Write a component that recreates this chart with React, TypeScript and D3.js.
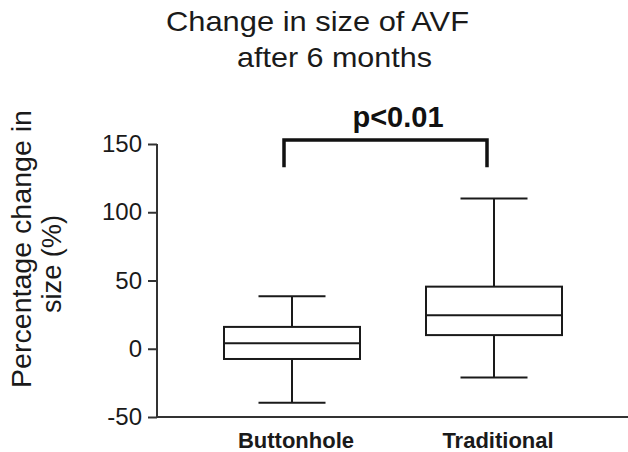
import React, { useEffect, useRef } from 'react';
import * as d3 from 'd3';

// Box-plot data (percentage change in AVF size)
const categories = ['Buttonhole', 'Traditional'];
const whiskerLow = [-39.5, -21];
const q1Values = [-7.5, 10];
const medianValues = [4, 24.5];
const q3Values = [16, 45.5];
const whiskerHigh = [38.5, 110];

const yTicks = [-50, 0, 50, 100, 150];
const titleLines = ['Change in size of AVF', 'after 6 months'];
const yLabelLines = ['Percentage change in', 'size (%)'];
const pLabel = 'p<0.01';
const bracketTop = 153;
const bracketBottom = 133;

const W = 628;
const H = 452;
const FONT = '"Liberation Sans", Arial, Helvetica, sans-serif';

const App: React.FC = () => {
  const svgRef = useRef<SVGSVGElement>(null);

  useEffect(() => {
    if (!svgRef.current) return;
    const svg = d3.select(svgRef.current);
    svg.selectAll('*').remove();

    const axisX = 157;
    const x = d3.scalePoint<string>().domain(categories).range([292, 494]);
    const y = d3.scaleLinear().domain([-50, 150]).range([417, 144]);
    const boxW = 136;
    const capW = 67;
    const ink = '#1a1a1a';

    // title
    svg.append('text')
      .attr('x', 166).attr('y', 31)
      .attr('textLength', 303).attr('lengthAdjust', 'spacingAndGlyphs')
      .style('font-family', FONT).style('font-size', '28px').attr('fill', ink)
      .text(titleLines[0]);
    svg.append('text')
      .attr('x', 237).attr('y', 67)
      .attr('textLength', 195).attr('lengthAdjust', 'spacingAndGlyphs')
      .style('font-family', FONT).style('font-size', '28px').attr('fill', ink)
      .text(titleLines[1]);

    // y axis label
    svg.append('text')
      .attr('transform', 'translate(31,388) rotate(-90)')
      .attr('textLength', 278).attr('lengthAdjust', 'spacingAndGlyphs')
      .style('font-family', FONT).style('font-size', '27px').attr('fill', ink)
      .text(yLabelLines[0]);
    svg.append('text')
      .attr('transform', 'translate(61,313) rotate(-90)')
      .attr('textLength', 98).attr('lengthAdjust', 'spacingAndGlyphs')
      .style('font-family', FONT).style('font-size', '27px').attr('fill', ink)
      .text(yLabelLines[1]);

    // axes
    const yAxis = svg.append('g')
      .attr('transform', `translate(${axisX},0)`)
      .call(d3.axisLeft(y).tickValues(yTicks).tickSize(9).tickPadding(6).tickFormat(d => String(d)));
    yAxis.select('.domain').remove();
    yAxis.selectAll('.tick line').attr('stroke', '#333').attr('stroke-width', 2);
    yAxis.selectAll('.tick text')
      .style('font-family', FONT).style('font-size', '24px').attr('fill', ink);

    svg.append('line')
      .attr('x1', axisX).attr('x2', axisX)
      .attr('y1', y(150)).attr('y2', y(-50) + 1)
      .attr('stroke', '#333').attr('stroke-width', 2);
    svg.append('line')
      .attr('x1', axisX).attr('x2', W)
      .attr('y1', y(-50)).attr('y2', y(-50))
      .attr('stroke', '#333').attr('stroke-width', 2);

    // category labels
    svg.selectAll('.cat')
      .data(categories)
      .enter()
      .append('text')
      .attr('x', d => (x(d) as number) + 4)
      .attr('y', 448)
      .attr('text-anchor', 'middle')
      .style('font-family', FONT).style('font-size', '22px').style('font-weight', 'bold')
      .attr('fill', ink)
      .text(d => d);

    // boxes
    const g = svg.append('g').attr('fill', 'none').attr('stroke', ink).attr('stroke-width', 2);
    categories.forEach((c, i) => {
      const cx = x(c) as number;
      g.append('line')
        .attr('x1', cx).attr('x2', cx)
        .attr('y1', y(whiskerHigh[i])).attr('y2', y(q3Values[i]));
      g.append('line')
        .attr('x1', cx).attr('x2', cx)
        .attr('y1', y(q1Values[i])).attr('y2', y(whiskerLow[i]));
      g.append('line')
        .attr('x1', cx - capW / 2).attr('x2', cx + capW / 2)
        .attr('y1', y(whiskerHigh[i])).attr('y2', y(whiskerHigh[i]));
      g.append('line')
        .attr('x1', cx - capW / 2).attr('x2', cx + capW / 2)
        .attr('y1', y(whiskerLow[i])).attr('y2', y(whiskerLow[i]));
      g.append('rect')
        .attr('x', cx - boxW / 2).attr('width', boxW)
        .attr('y', y(q3Values[i])).attr('height', y(q1Values[i]) - y(q3Values[i]));
      g.append('line')
        .attr('x1', cx - boxW / 2).attr('x2', cx + boxW / 2)
        .attr('y1', y(medianValues[i])).attr('y2', y(medianValues[i]));
    });

    // significance bracket
    const bx1 = (x(categories[0]) as number) - 8;
    const bx2 = (x(categories[1]) as number) - 7;
    svg.append('path')
      .attr('d', `M${bx1},${y(bracketBottom)}V${y(bracketTop)}H${bx2}V${y(bracketBottom)}`)
      .attr('fill', 'none').attr('stroke', '#111').attr('stroke-width', 3.5);
    svg.append('text')
      .attr('x', 398).attr('y', 127)
      .attr('text-anchor', 'middle')
      .style('font-family', FONT).style('font-size', '29px').style('font-weight', 'bold')
      .attr('fill', '#111')
      .text(pLabel);
  }, []);

  return (
    <svg
      ref={svgRef}
      width={W}
      height={H}
      style={{ display: 'block', position: 'absolute', left: 0, top: 0, background: '#fff' }}
    />
  );
};

export default App;
